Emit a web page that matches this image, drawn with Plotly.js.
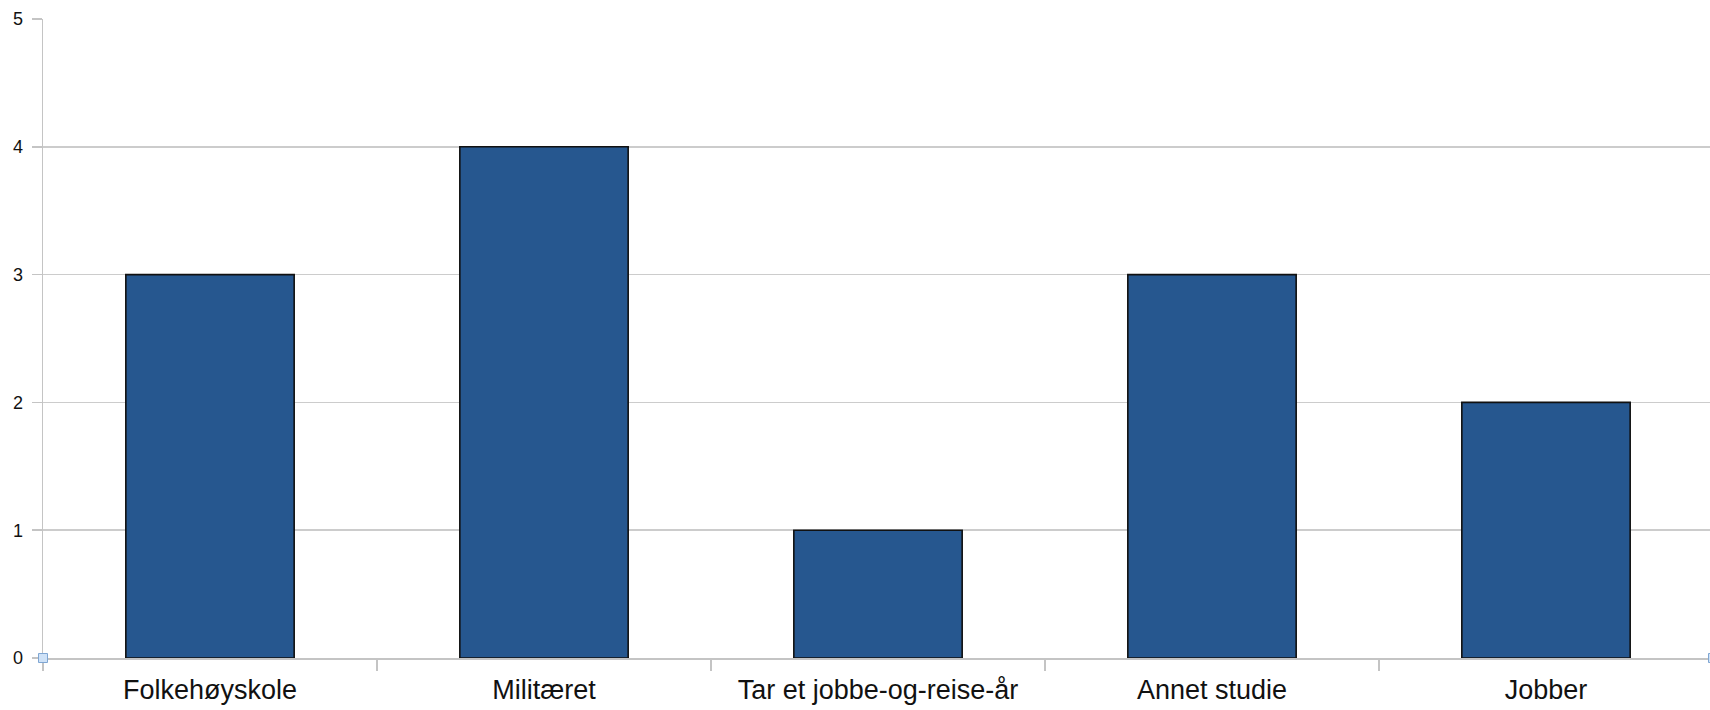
<!DOCTYPE html>
<html>
<head>
<meta charset="utf-8">
<script src="https://cdn.plot.ly/plotly-3.0.1.min.js"></script>
<style>
html, body { margin: 0; padding: 0; overflow: hidden; background: #fff; }
#chart { width: 1716px; height: 710px; }
</style>
</head>
<body>
<div id="chart"></div>
<script>
const categories = ["Folkehøyskole", "Militæret", "Tar et jobbe-og-reise-år", "Annet studie", "Jobber"];
const counts = [3, 4, 1, 3, 2];
const yTickValues = [0, 1, 2, 3, 4, 5];

const trace = {
  type: "bar",
  x: categories,
  y: counts,
  marker: { color: "#26578f", line: { color: "#111111", width: 1.6 } },
  hoverinfo: "x+y"
};

function handle(px) {
  return {
    type: "rect", xref: "paper", yref: "paper",
    xsizemode: "pixel", ysizemode: "pixel",
    xanchor: px, yanchor: 0,
    x0: -4.5, x1: 4.5, y0: -4.5, y1: 4.5,
    fillcolor: "#cfe2f7", line: { color: "#7fa6d3", width: 1 }, layer: "above"
  };
}

const layout = {
  width: 1716, height: 710,
  margin: { l: 43, r: 3, t: 19, b: 52 },
  paper_bgcolor: "#ffffff", plot_bgcolor: "#ffffff",
  showlegend: false,
  bargap: 0.496,
  font: { family: "Liberation Sans, Arial, sans-serif", color: "#111111" },
  xaxis: {
    type: "category",
    tickson: "boundaries",
    ticks: "outside", ticklen: 11, tickwidth: 1.5, tickcolor: "#c4c4c4",
    showline: true, linecolor: "#c4c4c4", linewidth: 1.5,
    showgrid: false, zeroline: false,
    tickfont: { size: 27, color: "#111111" },
    ticklabelstandoff: 7
  },
  yaxis: {
    range: [0, 5],
    tickvals: yTickValues,
    ticks: "outside", ticklen: 10, tickwidth: 1.5, tickcolor: "#c4c4c4",
    showline: true, linecolor: "#c4c4c4", linewidth: 1.5,
    showgrid: true, gridcolor: "#cccccc", gridwidth: 1.5,
    zeroline: false,
    tickfont: { size: 18, color: "#111111" },
    ticklabelstandoff: 5
  },
  shapes: [handle(0), handle(1)]
};

Plotly.newPlot("chart", [trace], layout, { displayModeBar: false, staticPlot: true });
</script>
</body>
</html>
